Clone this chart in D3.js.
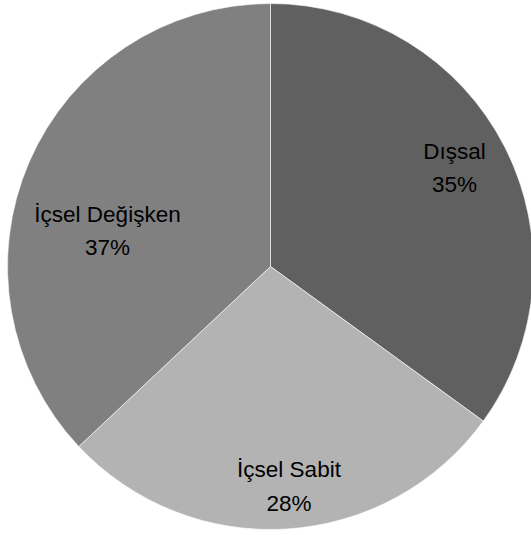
<!DOCTYPE html>
<meta charset="utf-8">
<style>
body { margin: 0; background: #fff; }
.label {
  font: 22.5px "Liberation Sans", Arial, sans-serif;
  fill: #000;
  text-anchor: middle;
}
</style>
<svg width="531" height="535"></svg>
<script src="https://d3js.org/d3.v7.min.js"></script>
<script>

// data
var categories = ["Dışsal", "İçsel Sabit", "İçsel Değişken"];
var values = [35, 28, 37];
var colors = ["#606060", "#b3b3b3", "#808080"];

// where each label sits (first baseline, relative to pie centre)
var labelPos = [[184, -108], [18.5, 210.5], [-163, -45]];

var svg = d3.select("svg"),
    cx = 270.5, cy = 266.5, radius = 263,
    g = svg.append("g").attr("transform", "translate(" + cx + "," + cy + ")");

var pie = d3.pie().sort(null).value(function(d) { return d; });
var arc = d3.arc().innerRadius(0).outerRadius(radius);

var arcs = pie(values);

g.selectAll("path")
  .data(arcs)
  .enter().append("path")
    .attr("d", arc)
    .attr("fill", function(d, i) { return colors[i]; })
    .attr("stroke", "#fff")
    .attr("stroke-width", 0.6);

var total = d3.sum(values);

var label = g.selectAll("text")
  .data(arcs)
  .enter().append("text")
    .attr("class", "label")
    .attr("transform", function(d, i) { return "translate(" + labelPos[i][0] + "," + labelPos[i][1] + ")"; });

label.append("tspan")
    .attr("x", 0)
    .text(function(d, i) { return categories[i]; });

label.append("tspan")
    .attr("x", 0)
    .attr("dy", 33.5)
    .text(function(d) { return Math.round(d.value / total * 100) + "%"; });

</script>
